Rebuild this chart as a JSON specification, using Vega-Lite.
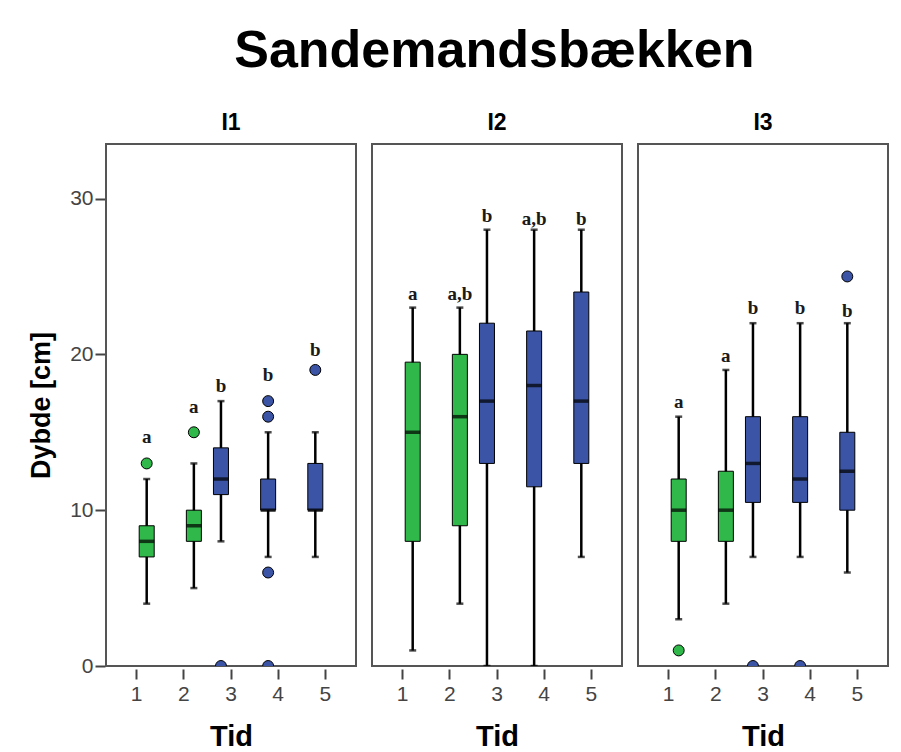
{
  "$schema": "https://vega.github.io/schema/vega-lite/v6.json",
  "background": "white",
  "padding": {"left": 27, "top": 25, "right": 10, "bottom": 5},
  "title": {"text": "Sandemandsbækken", "fontSize": 52, "font": "Liberation Sans", "fontWeight": "bold", "color": "black", "anchor": "middle", "dx": 36, "offset": 34},
  "data": {"values": [
    {"kind": "box", "panel": "I1", "tid": 1, "grp": "green", "lo": 4, "q1": 7, "med": 8, "q3": 9, "hi": 12, "lab": "a", "laby": 14.7},
    {"kind": "box", "panel": "I1", "tid": 2, "grp": "green", "lo": 5, "q1": 8, "med": 9, "q3": 10, "hi": 13, "lab": "a", "laby": 16.6},
    {"kind": "box", "panel": "I1", "tid": 3, "grp": "blue", "lo": 8, "q1": 11, "med": 12, "q3": 14, "hi": 17, "lab": "b", "laby": 18},
    {"kind": "box", "panel": "I1", "tid": 4, "grp": "blue", "lo": 7, "q1": 10, "med": 10, "q3": 12, "hi": 15, "lab": "b", "laby": 18.7},
    {"kind": "box", "panel": "I1", "tid": 5, "grp": "blue", "lo": 7, "q1": 10, "med": 10, "q3": 13, "hi": 15, "lab": "b", "laby": 20.3},
    {"kind": "box", "panel": "I2", "tid": 1, "grp": "green", "lo": 1, "q1": 8, "med": 15, "q3": 19.5, "hi": 23, "lab": "a", "laby": 23.9},
    {"kind": "box", "panel": "I2", "tid": 2, "grp": "green", "lo": 4, "q1": 9, "med": 16, "q3": 20, "hi": 23, "lab": "a,b", "laby": 23.85},
    {"kind": "box", "panel": "I2", "tid": 3, "grp": "blue", "lo": 0, "q1": 13, "med": 17, "q3": 22, "hi": 28, "lab": "b", "laby": 28.85},
    {"kind": "box", "panel": "I2", "tid": 4, "grp": "blue", "lo": 0, "q1": 11.5, "med": 18, "q3": 21.5, "hi": 28, "lab": "a,b", "laby": 28.7},
    {"kind": "box", "panel": "I2", "tid": 5, "grp": "blue", "lo": 7, "q1": 13, "med": 17, "q3": 24, "hi": 28, "lab": "b", "laby": 28.7},
    {"kind": "box", "panel": "I3", "tid": 1, "grp": "green", "lo": 3, "q1": 8, "med": 10, "q3": 12, "hi": 16, "lab": "a", "laby": 16.95},
    {"kind": "box", "panel": "I3", "tid": 2, "grp": "green", "lo": 4, "q1": 8, "med": 10, "q3": 12.5, "hi": 19, "lab": "a", "laby": 19.9},
    {"kind": "box", "panel": "I3", "tid": 3, "grp": "blue", "lo": 7, "q1": 10.5, "med": 13, "q3": 16, "hi": 22, "lab": "b", "laby": 23},
    {"kind": "box", "panel": "I3", "tid": 4, "grp": "blue", "lo": 7, "q1": 10.5, "med": 12, "q3": 16, "hi": 22, "lab": "b", "laby": 23},
    {"kind": "box", "panel": "I3", "tid": 5, "grp": "blue", "lo": 6, "q1": 10, "med": 12.5, "q3": 15, "hi": 22, "lab": "b", "laby": 22.8},
    {"kind": "out", "panel": "I1", "tid": 1, "grp": "green", "v": 13},
    {"kind": "out", "panel": "I1", "tid": 2, "grp": "green", "v": 15},
    {"kind": "out", "panel": "I1", "tid": 3, "grp": "blue", "v": 0},
    {"kind": "out", "panel": "I1", "tid": 4, "grp": "blue", "v": 16},
    {"kind": "out", "panel": "I1", "tid": 4, "grp": "blue", "v": 17},
    {"kind": "out", "panel": "I1", "tid": 4, "grp": "blue", "v": 6},
    {"kind": "out", "panel": "I1", "tid": 4, "grp": "blue", "v": 0},
    {"kind": "out", "panel": "I1", "tid": 5, "grp": "blue", "v": 19},
    {"kind": "out", "panel": "I3", "tid": 1, "grp": "green", "v": 1},
    {"kind": "out", "panel": "I3", "tid": 3, "grp": "blue", "v": 0},
    {"kind": "out", "panel": "I3", "tid": 4, "grp": "blue", "v": 0},
    {"kind": "out", "panel": "I3", "tid": 5, "grp": "blue", "v": 25}
  ]},
  "facet": {"column": {"field": "panel", "type": "nominal", "title": null,
    "header": {"labelFontSize": 23, "labelFont": "Liberation Sans", "labelFontWeight": "bold", "labelColor": "black", "labelPadding": 8}}},
  "spacing": 14,
  "spec": {
    "width": 250,
    "height": 522,
    "encoding": {
      "x": {"field": "tid", "type": "ordinal", "scale": {"domain": [1, 2, 3, 4, 5], "paddingInner": 0, "paddingOuter": 0.15},
        "axis": {"title": "Tid", "labelAngle": 0}},
      "xOffset": {"field": "grp", "type": "nominal", "scale": {"domain": ["blue", "green"], "paddingInner": 0, "paddingOuter": 0.175}}
    },
    "layer": [
      {
        "transform": [{"filter": "datum.kind == 'box'"}],
        "mark": {"type": "rule", "color": "black", "strokeWidth": 2.5},
        "encoding": {
          "y": {"field": "lo", "type": "quantitative", "scale": {"domain": [0, 33.5], "nice": false, "zero": true},
            "axis": {"title": "Dybde [cm]", "values": [0, 10, 20, 30]}},
          "y2": {"field": "hi"}
        }
      },
      {
        "transform": [{"filter": "datum.kind == 'box'"}],
        "mark": {"type": "tick", "color": "black", "thickness": 2.5, "size": 7, "orient": "horizontal"},
        "encoding": {"y": {"field": "hi", "type": "quantitative"}}
      },
      {
        "transform": [{"filter": "datum.kind == 'box'"}],
        "mark": {"type": "tick", "color": "black", "thickness": 2.5, "size": 7, "orient": "horizontal", "clip": true},
        "encoding": {"y": {"field": "lo", "type": "quantitative"}}
      },
      {
        "transform": [{"filter": "datum.kind == 'box'"}],
        "mark": {"type": "bar", "size": 15, "stroke": "black", "strokeWidth": 1},
        "encoding": {
          "y": {"field": "q1", "type": "quantitative"},
          "y2": {"field": "q3"},
          "color": {"field": "grp", "type": "nominal", "scale": {"domain": ["green", "blue"], "range": ["#30b94a", "#3b54a6"]}, "legend": null}
        }
      },
      {
        "transform": [{"filter": "datum.kind == 'box'"}],
        "mark": {"type": "tick", "color": "black", "thickness": 3.5, "size": 15, "orient": "horizontal"},
        "encoding": {"y": {"field": "med", "type": "quantitative"}}
      },
      {
        "transform": [{"filter": "datum.kind == 'out'"}],
        "mark": {"type": "point", "filled": true, "shape": "circle", "size": 120, "stroke": "black", "strokeWidth": 1, "opacity": 1, "clip": true},
        "encoding": {
          "y": {"field": "v", "type": "quantitative"},
          "fill": {"field": "grp", "type": "nominal", "scale": {"domain": ["green", "blue"], "range": ["#30b94a", "#3b54a6"]}, "legend": null}
        }
      },
      {
        "transform": [{"filter": "datum.kind == 'box'"}],
        "mark": {"type": "text", "font": "Liberation Serif", "fontWeight": "bold", "fontSize": 19, "color": "#1a1a1a", "baseline": "middle"},
        "encoding": {
          "y": {"field": "laby", "type": "quantitative"},
          "text": {"field": "lab"}
        }
      }
    ]
  },
  "config": {
    "font": "Liberation Sans",
    "view": {"stroke": "#555555", "strokeWidth": 2},
    "axis": {"domain": false, "grid": false, "tickColor": "#444444", "tickWidth": 2, "tickSize": 10,
      "labelFont": "Liberation Sans", "labelFontSize": 21, "labelColor": "#444444",
      "titleFont": "Liberation Sans", "titleFontWeight": "bold", "titleColor": "black"},
    "axisX": {"titleFontSize": 29, "labelPadding": 4, "titlePadding": 18},
    "axisY": {"titleFontSize": 27, "labelPadding": 2, "titlePadding": 14}
  }
}
